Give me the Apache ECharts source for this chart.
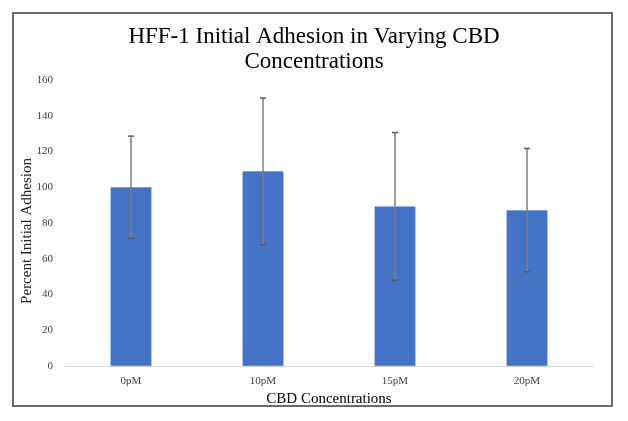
<!DOCTYPE html>
<html>
<head>
<meta charset="utf-8">
<script src="https://cdn.jsdelivr.net/npm/echarts@6/dist/echarts.min.js"></script>
<style>
html,body{margin:0;padding:0;background:#fff;}
#chart{width:628px;height:421px;}
</style>
</head>
<body>
<div id="chart"></div>
<script>
const categories = ['0pM', '10pM', '15pM', '20pM'];
const meanValues = [100, 108.9, 89.3, 87.2];
const errorValues = [28.6, 41, 41.3, 34.5];
const yTicks = { min: 0, max: 160, interval: 20 };

const FONT = '"Liberation Serif", "Times New Roman", serif';
const chart = echarts.init(document.getElementById('chart'));

const errData = categories.map((c, i) => [i, meanValues[i] - errorValues[i], meanValues[i] + errorValues[i]]);

chart.setOption({
  animation: false,
  backgroundColor: '#fff',
  title: {
    text: 'HFF-1 Initial Adhesion in Varying CBD\nConcentrations',
    left: 'center',
    top: 19,
    textStyle: { fontFamily: FONT, fontSize: 23, fontWeight: 'normal', color: '#000', lineHeight: 25 }
  },
  graphic: [{
    type: 'rect',
    shape: { x: 13, y: 13, width: 599, height: 393 },
    style: { fill: 'none', stroke: '#6b6b6b', lineWidth: 2 },
    silent: true
  }, {
    type: 'text',
    x: 27,
    y: 231,
    rotation: Math.PI / 2,
    style: {
      text: 'Percent Initial Adhesion',
      fontFamily: FONT,
      fontSize: 15,
      fill: '#262626',
      align: 'center',
      verticalAlign: 'middle'
    },
    silent: true
  }],
  grid: { left: 65, right: 35, top: 80, bottom: 55 },
  xAxis: {
    type: 'category',
    data: categories,
    name: 'CBD Concentrations',
    nameLocation: 'middle',
    nameGap: 22,
    nameTextStyle: { fontFamily: FONT, fontSize: 15, color: '#000' },
    axisLine: { lineStyle: { color: '#d9d9d9', width: 1 } },
    axisTick: { show: false },
    axisLabel: { fontFamily: FONT, fontSize: 11, color: '#404040', margin: 10 }
  },
  yAxis: {
    type: 'value',
    min: yTicks.min,
    max: yTicks.max,
    interval: yTicks.interval,
    axisLine: { show: false },
    axisTick: { show: false },
    splitLine: { show: false },
    axisLabel: { fontFamily: FONT, fontSize: 11, color: '#404040', margin: 12 }
  },
  series: [{
    type: 'bar',
    data: meanValues,
    barWidth: '31%',
    itemStyle: { color: '#4472c4', borderColor: '#5a86d4', borderWidth: 0.5 },
    z: 2
  }, {
    type: 'custom',
    data: errData,
    z: 5,
    renderItem: function (params, api) {
      const x = api.value(0);
      const lo = api.coord([x, api.value(1)]);
      const hi = api.coord([x, api.value(2)]);
      const hw = 3;
      const style = { stroke: '#7f7f7f', lineWidth: 1.5 };
      const capStyle = { stroke: '#595959', lineWidth: 1.5 };
      return {
        type: 'group',
        children: [
          { type: 'line', shape: { x1: lo[0], y1: lo[1], x2: hi[0], y2: hi[1] }, style: style },
          { type: 'line', shape: { x1: hi[0] - hw, y1: hi[1], x2: hi[0] + hw, y2: hi[1] }, style: capStyle },
          { type: 'line', shape: { x1: lo[0] - hw, y1: lo[1], x2: lo[0] + hw, y2: lo[1] }, style: capStyle }
        ]
      };
    }
  }]
});
</script>
</body>
</html>
